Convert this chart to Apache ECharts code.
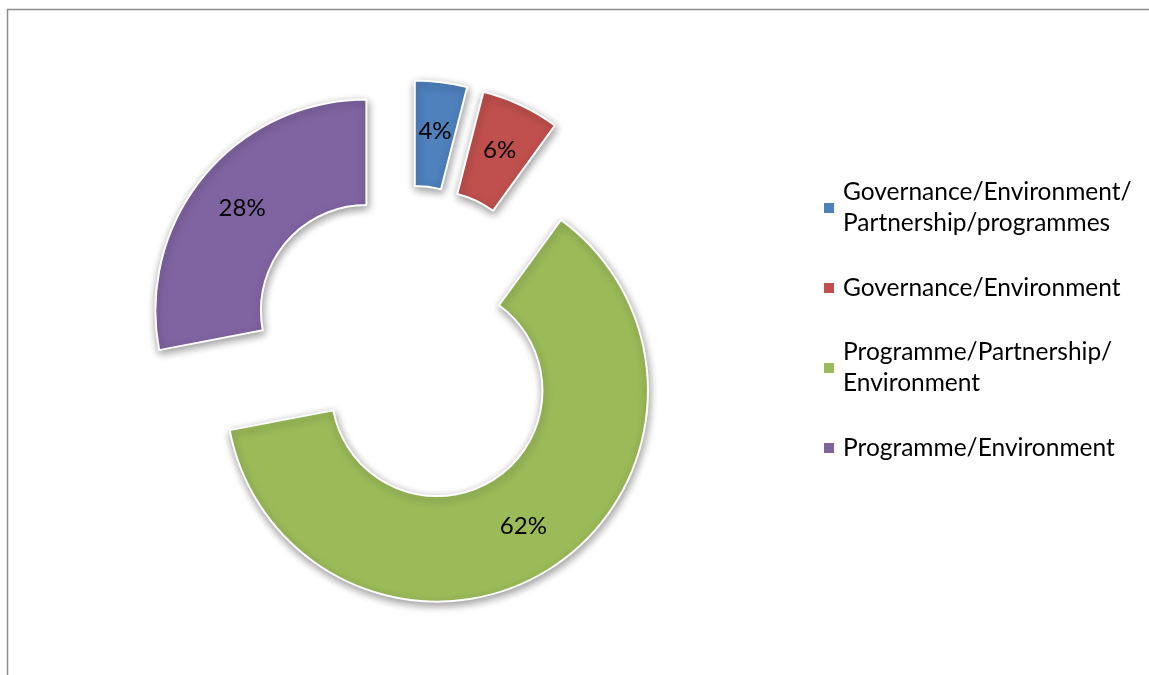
<!DOCTYPE html>
<html>
<head>
<meta charset="utf-8">
<script src="https://cdn.jsdelivr.net/npm/echarts@6/dist/echarts.min.js"></script>
<style>
  html, body { margin: 0; padding: 0; background: #ffffff; }
  #chart { width: 1149px; height: 675px; }
</style>
</head>
<body>
<div id="chart"></div>
<script>
// Share of activities by theme combination (percent)
const categories = [
  'Governance/Environment/Partnership/programmes',
  'Governance/Environment',
  'Programme/Partnership/Environment',
  'Programme/Environment'
];
const shares = [4, 6, 62, 28];
const legendLabels = [
  'Governance/Environment/\nPartnership/programmes',
  'Governance/Environment',
  'Programme/Partnership/\nEnvironment',
  'Programme/Environment'
];
const palette = ['#4F81BD', '#C0504D', '#9BBB59', '#8064A2'];

const FONT = 'Lato, "Open Sans", sans-serif';
const LINE_H = 31;

const chart = echarts.init(document.getElementById('chart'), null, { renderer: 'canvas' });

const sliceStyle = {
  borderColor: '#ffffff',
  borderWidth: 2,
  shadowBlur: 8,
  shadowOffsetX: 1,
  shadowOffsetY: 3,
  shadowColor: 'rgba(0,0,0,0.40)'
};

const option = {
  animation: false,
  color: palette,
  graphic: [{
    type: 'rect',
    silent: true,
    z: -10,
    shape: { x: 7.5, y: 9.5, width: 1400, height: 900 },
    style: { fill: 'none', stroke: '#8c8c8c', lineWidth: 1.5 }
  }],
  legend: {
    orient: 'vertical',
    left: 822,
    top: 161.5,
    padding: 0,
    itemGap: 18,
    itemWidth: 12,
    itemHeight: 12,
    icon: 'rect',
    selectedMode: false,
    // two-line entries keep their marker beside the first line
    data: categories.map((name, i) => ({
      name,
      textStyle: legendLabels[i].indexOf('\n') >= 0
        ? { padding: [LINE_H, 0, 0, 3] }
        : { padding: [0, 0, 0, 3] }
    })),
    formatter: name => legendLabels[categories.indexOf(name)],
    textStyle: { fontFamily: FONT, fontSize: 24.5, lineHeight: LINE_H, color: '#000000' }
  },
  series: [{
    type: 'pie',
    center: [408, 345],
    radius: [105.5, 211],
    startAngle: 90,
    clockwise: true,
    selectedMode: 'multiple',
    selectedOffset: 54,
    avoidLabelOverlap: false,
    label: {
      show: true,
      position: 'inside',
      formatter: '{c}%',
      fontFamily: FONT,
      fontSize: 24,
      color: '#000000'
    },
    labelLine: { show: false },
    itemStyle: sliceStyle,
    emphasis: { disabled: true },
    select: { itemStyle: sliceStyle, label: { color: '#000000' } },
    data: categories.map((name, i) => ({ name, value: shares[i], selected: true }))
  }]
};

chart.setOption(option);
</script>
</body>
</html>
